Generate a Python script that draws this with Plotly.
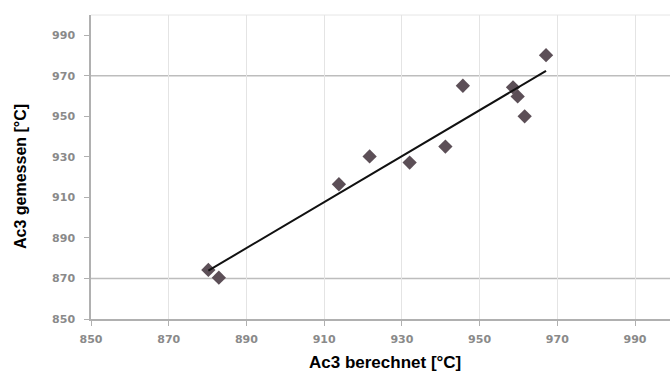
import numpy as np
import plotly.graph_objects as go

# Data
ac3_berechnet = [880.2, 882.9, 913.8, 921.7, 932.0, 941.2, 945.7, 958.6, 959.8, 961.6, 967.1]
ac3_gemessen = [874.2, 870.4, 916.5, 930.2, 927.2, 935.1, 965.1, 964.3, 959.8, 950.0, 980.2]
tick_vals = [850, 870, 890, 910, 930, 950, 970, 990]
tick_text = ["850", "870", "890", "910", "930", "950", "970", "990"]

x_title = "Ac3 berechnet [°C]"
y_title = "Ac3 gemessen [°C]"

# Linear trendline derived from the data
xa = np.array(ac3_berechnet)
ya = np.array(ac3_gemessen)
slope, intercept = np.polyfit(xa, ya, 1)
trend_x = [xa.min(), xa.max()]
trend_y = [slope * v + intercept for v in trend_x]

fig = go.Figure()
fig.add_trace(go.Scatter(
    x=ac3_berechnet, y=ac3_gemessen, mode="markers",
    marker=dict(symbol="diamond", size=11, color="#5c4f57"),
    showlegend=False, hoverinfo="x+y"))
fig.add_trace(go.Scatter(
    x=trend_x, y=trend_y, mode="lines",
    line=dict(color="#111111", width=2),
    showlegend=False, hoverinfo="skip"))

tick_font = dict(family="DejaVu Sans", size=11, color="#8a8a8a", weight="bold")

fig.update_layout(
    width=670, height=372,
    margin=dict(l=91, r=0, t=15, b=53),
    paper_bgcolor="white", plot_bgcolor="white",
    xaxis=dict(range=[850, 999], tickvals=tick_vals, ticktext=tick_text,
               showgrid=True, gridcolor="#e4e4e4", gridwidth=1,
               showline=True, linecolor="#b0b0b0", linewidth=1.5,
               ticks="outside", ticklen=5, tickcolor="#b0b0b0",
               tickfont=tick_font, ticklabelstandoff=4, zeroline=False),
    yaxis=dict(range=[850, 1000], tickvals=tick_vals, ticktext=tick_text,
               showgrid=False,
               showline=True, linecolor="#b0b0b0", linewidth=1.5,
               ticks="outside", ticklen=5, tickcolor="#b0b0b0",
               tickfont=tick_font, ticklabelstandoff=7, zeroline=False),
    shapes=[
        dict(type="line", xref="paper", yref="y", x0=0, x1=1, y0=970, y1=970,
             line=dict(color="#bdbdbd", width=1.5), layer="below"),
        dict(type="line", xref="paper", yref="y", x0=0, x1=1, y0=870, y1=870,
             line=dict(color="#bdbdbd", width=1.5), layer="below"),
        dict(type="line", xref="paper", yref="paper", x0=0, x1=1, y0=1, y1=1,
             line=dict(color="#e6e6e6", width=1), layer="below"),
    ],
    annotations=[
        dict(text=x_title, xref="paper", yref="paper", x=0.5, y=0,
             xanchor="center", yanchor="middle", xshift=4, yshift=-43,
             showarrow=False,
             font=dict(family="Liberation Sans", size=17, color="#000000", weight="bold")),
        dict(text=y_title, xref="paper", yref="paper", x=0, y=0.5,
             xanchor="center", yanchor="middle", xshift=-71, yshift=-10,
             textangle=-90, showarrow=False,
             font=dict(family="Liberation Sans", size=16, color="#000000", weight="bold")),
    ],
)

fig.write_html("out.html")
